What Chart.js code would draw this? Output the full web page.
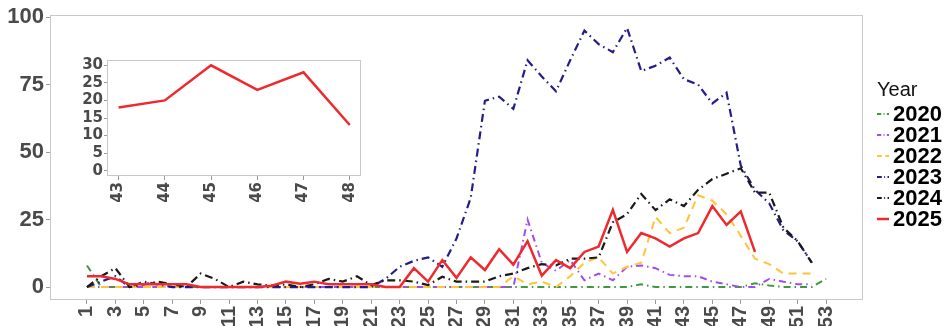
<!DOCTYPE html>
<html>
<head>
<meta charset="utf-8">
<script src="https://cdn.jsdelivr.net/npm/chart.js@4.4.1/dist/chart.umd.min.js"></script>
<style>
  html, body { margin:0; padding:0; background:#fff; overflow:hidden; }
  #wrap { position:relative; width:945px; height:326px; }
  #main { position:absolute; left:0; top:0; }
  #inset { position:absolute; left:60px; top:50px; }
  #legend { position:absolute; left:877px; top:78px; font-family:'Liberation Sans', Arial, sans-serif; }
  #legend .title { font-size:20px; line-height:22px; color:#111; margin-bottom:3px; }
  #legend .item { display:flex; align-items:center; height:21px; font-size:22px; font-weight:bold; color:#000; }
  #legend svg { margin-right:4px; }
</style>
</head>
<body>
<div id="wrap">
  <canvas id="main" width="945" height="326"></canvas>
  <canvas id="inset" width="310" height="160"></canvas>
  <div id="legend"><div class="title">Year</div></div>
</div>
<script>
// weeks 1..53
const weeks = [1,2,3,4,5,6,7,8,9,10,11,12,13,14,15,16,17,18,19,20,21,22,23,24,25,26,27,
  28,29,30,31,32,33,34,35,36,37,38,39,40,41,42,43,44,45,46,47,48,49,50,51,52,53];
const xTicks = [1,3,5,7,9,11,13,15,17,19,21,23,25,27,29,31,33,35,37,39,41,43,45,47,49,51,53];
const yTicks = [0,25,50,75,100];

const years = ['2020','2021','2022','2023','2024','2025'];

const y2020 = [8,0,0,0,0,0,0,0,0,0,0,0,0,0,0,0,0,0,0,0,0,0,0,0,0,0,0,0,0,0,
  0,0,0,0,0,0,0,0,0,1,0,0,0,0,0,0,0,1.4,0.6,0,0,0,3];
const y2021 = [0,0,0,0,0,0,0,0,0,0,0,0,0,0,0,0,0,0,0,0,0,0,0,0,0,0,0,0,0,0,
  0,25,9,6,10,2.5,5,2.5,7.5,8,7,4.5,4,4,2,1,0,0,3,2,1,1];
const y2022 = [0,0,0,0,0,0,0,0,0,0,0,0,0,0,0,0,0,0,0,0,0,0,0,0,0,0,0,0,0,0,
  4,1,2,0,4,9,11,5,7.5,9,26,20,22,34,32,27,19,10.5,8.5,5,5,5];
const y2023 = [0,2,4,0,2,1,0,0,0,0,0,0,0,0,0,0,0,0,0,0,0,3,7.5,9.7,11,7.5,18,33,69,70.5,
  66,84,78,72.5,84,95,90,87,96,80,82,85,77,75,68,72,45,36,31,21,17,9];
const y2024 = [0,4,7,0,1,2,1,0,5,3,0,2,1,0.5,1,0,1,3,2,4,0.7,2.5,2.5,2,0.7,3.8,2,2,2,4,
  5,7,8.5,8,10.5,10.5,11,24,27,34.5,28.5,32.5,30,36,40,42,44,35,35,22,17,9];
const y2025 = [4,4,3,1,1,1,1,1,0,0,0,0,0,0.5,2,1.2,2,1,1,1,1,0,0,7,2,10,3.4,11,6.3,14,
  8.3,17,4.2,10,7,13,15,28.6,13,20,18,15,18,20,30,23,28,13];

const insetWeeks = [43,44,45,46,47,48];
const insetTicks = [0,5,10,15,20,25,30];

const series = [y2020, y2021, y2022, y2023, y2024, y2025];
const colors = ['#3f9a3f', '#a24bf0', '#ffc43a', '#231c8c', '#1a1a1a', '#ee2a2f'];
const dashes = [[7,4,1.5,4], [7,4,1.5,4], [8,6], [8,4,1.5,4], [8,4,1.5,4], []];
const widths = [2, 2, 2, 2.2, 2.2, 2.5];

function toPoints(vals, xs) {
  return vals.map((v, i) => ({ x: xs[i], y: v }));
}

const panelBox = {
  id: 'panelBox',
  beforeDatasetsDraw(chart, args, opts) {
    const a = chart.chartArea, c = chart.ctx;
    c.save();
    c.fillStyle = '#fff';
    c.fillRect(a.left, a.top, a.right - a.left, a.bottom - a.top);
    c.strokeStyle = opts.color || '#c8c8c8';
    c.lineWidth = 1;
    c.strokeRect(Math.round(a.left) + 0.5, Math.round(a.top) + 0.5,
      Math.round(a.right - a.left) - 1, Math.round(a.bottom - a.top) - 1);
    c.restore();
  }
};

Chart.defaults.font.family = "'Liberation Sans', Arial, sans-serif";

const mainChart = new Chart(document.getElementById('main'), {
  type: 'line',
  data: {
    datasets: years.map((yr, i) => ({
      label: yr,
      data: toPoints(series[i], weeks),
      borderColor: colors[i],
      backgroundColor: colors[i],
      borderDash: dashes[i],
      borderWidth: widths[i],
      pointRadius: 0,
      tension: 0,
      fill: false,
      order: years.length - i
    }))
  },
  options: {
    responsive: false,
    animation: false,
    layout: { padding: { top: 13, right: 82, left: 0, bottom: 0 } },
    plugins: {
      legend: { display: false },
      tooltip: { enabled: false },
      panelBox: { color: '#c8c8c8' }
    },
    scales: {
      x: {
        type: 'linear', min: -1.6, max: 55.6,
        afterBuildTicks: s => { s.ticks = xTicks.map(v => ({ value: v })); },
        afterFit: s => { s.height = 26; },
        grid: { drawOnChartArea: false, tickLength: 4, color: '#9a9a9a' },
        border: { display: false },
        ticks: { autoSkip: false, minRotation: 90, maxRotation: 90, padding: 2,
          color: '#4a4a4a', font: { size: 20, weight: 'bold' } }
      },
      y: {
        min: -4.8, max: 100.7,
        afterBuildTicks: s => { s.ticks = yTicks.map(v => ({ value: v })); },
        afterFit: s => { s.width = 50; },
        grid: { drawOnChartArea: false, tickLength: 4, color: '#9a9a9a' },
        border: { display: false },
        ticks: { autoSkip: false, padding: 2, color: '#4a4a4a', font: { size: 22, weight: 'bold' } }
      }
    }
  },
  plugins: [panelBox]
});

// inset: 2025, weeks 43-48
const insetChart = new Chart(document.getElementById('inset'), {
  type: 'line',
  data: {
    datasets: [{
      label: '2025',
      data: toPoints(insetWeeks.map(w => y2025[w - 1]), insetWeeks),
      borderColor: colors[5],
      borderWidth: 2.5,
      pointRadius: 0,
      tension: 0,
      fill: false
    }]
  },
  options: {
    responsive: false,
    animation: false,
    layout: { padding: { top: 8, right: 5, left: 0, bottom: 0 } },
    plugins: { legend: { display: false }, tooltip: { enabled: false }, panelBox: { color: '#c8c8c8' } },
    scales: {
      x: {
        type: 'linear', min: 42.75, max: 48.25,
        afterBuildTicks: s => { s.ticks = insetWeeks.map(v => ({ value: v })); },
        afterFit: s => { s.height = 34; },
        grid: { drawOnChartArea: false, tickLength: 4, color: '#9a9a9a' },
        border: { display: false },
        ticks: { autoSkip: false, minRotation: 90, maxRotation: 90, padding: 2,
          color: '#4a4a4a', font: { family: "'DejaVu Sans', sans-serif", size: 15, weight: 'bold' } }
      },
      y: {
        min: -1.5, max: 31.5,
        afterBuildTicks: s => { s.ticks = insetTicks.map(v => ({ value: v })); },
        afterFit: s => { s.width = 47; },
        grid: { drawOnChartArea: false, tickLength: 3, color: '#9a9a9a' },
        border: { display: false },
        ticks: { autoSkip: false, padding: 1, color: '#4a4a4a',
          font: { family: "'DejaVu Sans', sans-serif", size: 15, weight: 'bold' } }
      }
    }
  },
  plugins: [panelBox]
});

// legend built from the main chart's datasets
const legend = document.getElementById('legend');
mainChart.data.datasets.forEach(ds => {
  const item = document.createElement('div');
  item.className = 'item';
  const dash = ds.borderDash.length ? ds.borderDash.map(d => d * 0.6).join(' ') : 'none';
  item.innerHTML = '<svg width="12" height="10"><line x1="0" y1="5" x2="12" y2="5" stroke="' +
    ds.borderColor + '" stroke-width="' + ds.borderWidth + '" stroke-dasharray="' + dash + '"/></svg>' +
    '<span>' + ds.label + '</span>';
  legend.appendChild(item);
});
</script>
</body>
</html>
